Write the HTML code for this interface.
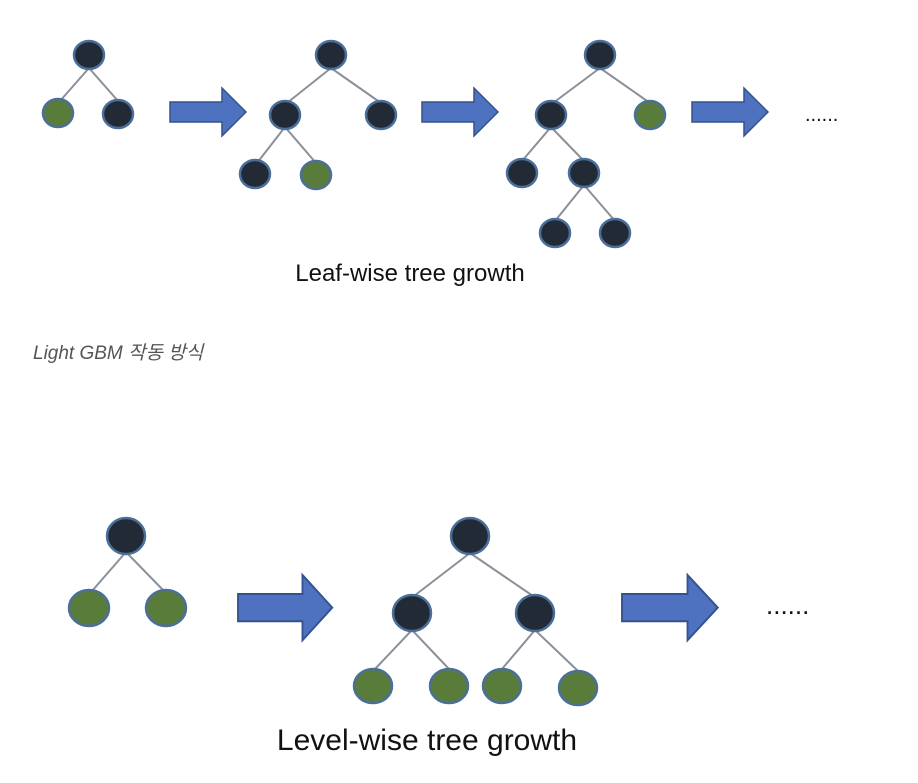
<!DOCTYPE html>
<html><head><meta charset="utf-8"><style>
body{margin:0;background:#fff;width:918px;height:778px;overflow:hidden}
</style></head><body>
<svg width="918" height="778" xmlns="http://www.w3.org/2000/svg">
<defs>
<g id="ar"><polygon points="0,14 52,14 52,0 76,24 52,48 52,34 0,34" fill="#4f72c0" stroke="#34528f" stroke-width="1.5"/></g>
</defs>
<g stroke="#8a8f99" stroke-width="2">
<line x1="89" y1="68" x2="60" y2="101"/><line x1="89" y1="68" x2="118" y2="101"/>
<line x1="331" y1="68" x2="287" y2="103"/><line x1="331" y1="68" x2="381" y2="103"/>
<line x1="285" y1="127" x2="257" y2="163"/><line x1="285" y1="127" x2="316" y2="163"/>
<line x1="600" y1="68" x2="553" y2="103"/><line x1="600" y1="68" x2="650" y2="103"/>
<line x1="551" y1="127" x2="522" y2="161"/><line x1="551" y1="127" x2="584" y2="161"/>
<line x1="584" y1="185" x2="555" y2="221"/><line x1="584" y1="185" x2="615" y2="221"/>
<line x1="126" y1="552" x2="92" y2="591"/><line x1="126" y1="552" x2="164" y2="591"/>
<line x1="470" y1="553" x2="414" y2="596"/><line x1="470" y1="553" x2="533" y2="596"/>
<line x1="412" y1="630" x2="375" y2="669"/><line x1="412" y1="630" x2="449" y2="669"/>
<line x1="535" y1="630" x2="502" y2="669"/><line x1="535" y1="630" x2="578" y2="671"/>
</g>
<g stroke="#4a6f9a" stroke-width="2.5">
<g fill="#222a35">
<ellipse cx="89" cy="55" rx="15" ry="14"/><ellipse cx="118" cy="114" rx="15" ry="14"/>
<ellipse cx="331" cy="55" rx="15" ry="14"/><ellipse cx="285" cy="115" rx="15" ry="14"/><ellipse cx="381" cy="115" rx="15" ry="14"/><ellipse cx="255" cy="174" rx="15" ry="14"/>
<ellipse cx="600" cy="55" rx="15" ry="14"/><ellipse cx="551" cy="115" rx="15" ry="14"/><ellipse cx="522" cy="173" rx="15" ry="14"/><ellipse cx="584" cy="173" rx="15" ry="14"/><ellipse cx="555" cy="233" rx="15" ry="14"/><ellipse cx="615" cy="233" rx="15" ry="14"/>
<ellipse cx="126" cy="536" rx="19" ry="18"/>
<ellipse cx="470" cy="536" rx="19" ry="18"/><ellipse cx="412" cy="613" rx="19" ry="18"/><ellipse cx="535" cy="613" rx="19" ry="18"/>
</g>
<g fill="#5a7c3a">
<ellipse cx="58" cy="113" rx="15" ry="14"/><ellipse cx="316" cy="175" rx="15" ry="14"/><ellipse cx="650" cy="115" rx="15" ry="14"/>
<ellipse cx="89" cy="608" rx="20" ry="18"/><ellipse cx="166" cy="608" rx="20" ry="18"/>
<ellipse cx="373" cy="686" rx="19" ry="17"/><ellipse cx="449" cy="686" rx="19" ry="17"/><ellipse cx="502" cy="686" rx="19" ry="17"/><ellipse cx="578" cy="688" rx="19" ry="17"/>
</g>
</g>
<use href="#ar" transform="translate(170,88)"/>
<use href="#ar" transform="translate(422,88)"/>
<use href="#ar" transform="translate(692,88)"/>
<use href="#ar" transform="translate(238,575) scale(1.24,1.36)"/>
<use href="#ar" transform="translate(622,575) scale(1.26,1.36)"/>
<g font-family="Liberation Sans, sans-serif" fill="#111">
<text x="805" y="121" font-size="20">......</text>
<text x="766" y="614" font-size="26">......</text>
<text x="410" y="281" font-size="24" text-anchor="middle">Leaf-wise tree growth</text>
<text x="427" y="750" font-size="30" text-anchor="middle">Level-wise tree growth</text>
</g>
<text x="33" y="359" font-size="19" font-style="italic" fill="#555" font-family="Liberation Sans, 'Noto Sans CJK KR', sans-serif">Light GBM 작동 방식</text>
</svg>
</body></html>
